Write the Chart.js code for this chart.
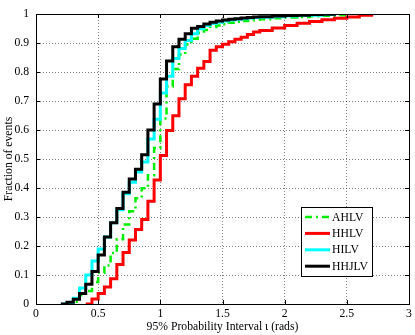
<!DOCTYPE html>
<html>
<head>
<meta charset="utf-8">
<script src="https://cdn.jsdelivr.net/npm/chart.js@4.4.0/dist/chart.umd.min.js"></script>
<style>
    html, body { margin: 0; padding: 0; background: #fff; }
</style>
</head>
<body>
<canvas id="cdfChart" width="415" height="335"></canvas>
<script>
// bin edges (rads) where each empirical CDF steps up
const xEdges = [0.15, 0.2, 0.25, 0.3, 0.35, 0.4, 0.45, 0.5, 0.55, 0.6, 0.65, 0.7, 0.75, 0.8, 0.85, 0.9, 0.95, 1,
    1.05, 1.1, 1.15, 1.2, 1.25, 1.3, 1.35, 1.4, 1.45, 1.5, 1.55, 1.6, 1.65, 1.7, 1.75, 1.8,
    1.9, 2, 2.1, 2.2, 2.3, 2.4, 2.5, 2.6, 2.7, 2.8];

const seriesNames = ['AHLV', 'HHLV', 'HILV', 'HHJLV'];

const ahlv = [null, null, 0, 0.008, 0.03, 0.045, 0.076, 0.108, 0.133, 0.176, 0.223, 0.274, 0.32, 0.365, 0.399, 0.444, 0.538, 0.64,
    0.75, 0.81, 0.86, 0.895, 0.915, 0.935, 0.945, 0.955, 0.96, 0.965, 0.97, 0.973, 0.976, 0.978, 0.98, 0.982,
    0.985, 0.988, 0.99, 0.992, 0.994, 0.996, 1, null, null, null];

const hhlv = [null, null, null, null, null, 0, 0.017, 0.036, 0.059, 0.087, 0.136, 0.178, 0.221, 0.257, 0.291, 0.354, 0.428, 0.512,
    0.598, 0.649, 0.708, 0.756, 0.785, 0.813, 0.836, 0.875, 0.887, 0.896, 0.904, 0.913, 0.92, 0.929, 0.938, 0.943,
    0.952, 0.96, 0.968, 0.974, 0.98, 0.985, 0.99, 0.996, 1, null];

const hilv = [null, 0, 0.005, 0.02, 0.055, 0.1, 0.148, 0.19, 0.231, 0.28, 0.325, 0.38, 0.42, 0.455, 0.49, 0.569, 0.637, 0.728,
    0.785, 0.847, 0.881, 0.909, 0.932, 0.949, 0.96, 0.967, 0.972, 0.976, 0.979, 0.982, 0.984, 0.986, 0.988, 0.989,
    0.991, 0.993, 0.995, 0.996, 0.998, 1, null, null, null, null];

const hhjlv = [null, 0, 0.006, 0.016, 0.036, 0.068, 0.112, 0.169, 0.231, 0.28, 0.329, 0.385, 0.431, 0.465, 0.515, 0.6, 0.69, 0.776,
    0.838, 0.887, 0.913, 0.932, 0.951, 0.957, 0.966, 0.972, 0.976, 0.979, 0.982, 0.984, 0.986, 0.988, 0.99, 0.991,
    0.993, 0.995, 0.996, 0.998, 0.999, 1, null, null, null, null];

const xTicks = [0, 0.5, 1, 1.5, 2, 2.5, 3];
const yTicks = [0, 0.1, 0.2, 0.3, 0.4, 0.5, 0.6, 0.7, 0.8, 0.9, 1];

const FONT = '"Liberation Serif", "Times New Roman", serif';
const FONT_SIZE = 11.7;

function toPoints(ys) {
    return xEdges.map((x, i) => ({ x: x, y: ys[i] })).filter(p => p.y !== null);
}

// full box + inward tick marks, matlab style
const boxPlugin = {
    id: 'box',
    afterDatasetsDraw(chart) {
        const { ctx, chartArea: a, scales } = chart;
        ctx.save();
        ctx.strokeStyle = '#000';
        ctx.lineWidth = 1;
        ctx.beginPath();
        xTicks.forEach(v => {
            const px = Math.round(scales.x.getPixelForValue(v)) + 0.5;
            ctx.moveTo(px, a.bottom); ctx.lineTo(px, a.bottom - 4);
            ctx.moveTo(px, a.top); ctx.lineTo(px, a.top + 4);
        });
        yTicks.forEach(v => {
            const py = Math.round(scales.y.getPixelForValue(v)) + 0.5;
            ctx.moveTo(a.left, py); ctx.lineTo(a.left + 4, py);
            ctx.moveTo(a.right, py); ctx.lineTo(a.right - 4, py);
        });
        ctx.stroke();
        ctx.strokeRect(Math.round(a.left) + 0.5, Math.round(a.top) + 0.5,
            Math.round(a.right - a.left), Math.round(a.bottom - a.top));
        ctx.restore();
    }
};

// boxed legend inside the axes, lower right
const legendPlugin = {
    id: 'boxLegend',
    afterDraw(chart) {
        const ctx = chart.ctx;
        const x0 = 301, y0 = 207, w = 71, h = 69;
        ctx.save();
        ctx.fillStyle = '#fff';
        ctx.fillRect(x0, y0, w, h);
        ctx.strokeStyle = '#000';
        ctx.lineWidth = 1;
        ctx.strokeRect(x0 + 0.5, y0 + 0.5, w, h);
        ctx.font = FONT_SIZE + 'px ' + FONT;
        ctx.textBaseline = 'middle';
        chart.data.datasets.forEach((ds, i) => {
            const y = y0 + 10 + i * 16.4;
            ctx.strokeStyle = ds.borderColor;
            ctx.lineWidth = ds.borderWidth;
            ctx.setLineDash(ds.borderDash || []);
            ctx.beginPath();
            ctx.moveTo(305, y);
            ctx.lineTo(330, y);
            ctx.stroke();
            ctx.setLineDash([]);
            ctx.fillStyle = '#000';
            ctx.fillText(ds.label, 332, y + 0.5);
        });
        ctx.restore();
    }
};

new Chart(document.getElementById('cdfChart').getContext('2d'), {
    type: 'line',
    data: {
        datasets: [
            { label: seriesNames[0], data: toPoints(ahlv), borderColor: '#00ee00', borderWidth: 2.5, borderDash: [7, 4, 2, 4], order: 4 },
            { label: seriesNames[1], data: toPoints(hhlv), borderColor: '#ff0000', borderWidth: 3, order: 3 },
            { label: seriesNames[2], data: toPoints(hilv), borderColor: '#00ffff', borderWidth: 3, order: 2 },
            { label: seriesNames[3], data: toPoints(hhjlv), borderColor: '#000000', borderWidth: 3, order: 1 }
        ]
    },
    options: {
        responsive: false,
        animation: false,
        layout: { padding: { top: 10, right: 6, left: 0, bottom: 0 } },
        elements: {
            point: { radius: 0 },
            line: { stepped: 'before', tension: 0, borderJoinStyle: 'miter', fill: false }
        },
        plugins: {
            legend: { display: false },
            tooltip: { enabled: false }
        },
        scales: {
            x: {
                type: 'linear',
                min: 0,
                max: 3,
                afterFit: (s) => { s.height = 31; },
                afterBuildTicks: (s) => { s.ticks = xTicks.map(v => ({ value: v })); },
                ticks: {
                    color: '#000',
                    font: { family: FONT, size: FONT_SIZE },
                    padding: 3,
                    maxRotation: 0,
                    autoSkip: false,
                    callback: (v) => String(v)
                },
                grid: { color: 'rgba(0,0,0,0.5)', drawTicks: false, lineWidth: 1 },
                border: { display: true, color: '#000', width: 1, dash: [1, 2] },
                title: {
                    display: true,
                    text: '95% Probability Interval ι (rads)',
                    color: '#000',
                    font: { family: FONT, size: FONT_SIZE },
                    padding: { top: 0, bottom: 1 }
                }
            },
            y: {
                type: 'linear',
                min: 0,
                max: 1,
                afterFit: (s) => { s.width = 36; },
                afterBuildTicks: (s) => { s.ticks = yTicks.map(v => ({ value: v })); },
                ticks: {
                    color: '#000',
                    font: { family: FONT, size: FONT_SIZE },
                    padding: 7,
                    autoSkip: false,
                    callback: (v) => String(v)
                },
                grid: { color: 'rgba(0,0,0,0.5)', drawTicks: false, lineWidth: 1 },
                border: { display: true, color: '#000', width: 1, dash: [1, 2] },
                title: {
                    display: true,
                    text: 'Fraction of events',
                    color: '#000',
                    font: { family: FONT, size: FONT_SIZE },
                    padding: { top: 2, bottom: 0 }
                }
            }
        }
    },
    plugins: [boxPlugin, legendPlugin]
});
</script>
</body>
</html>
